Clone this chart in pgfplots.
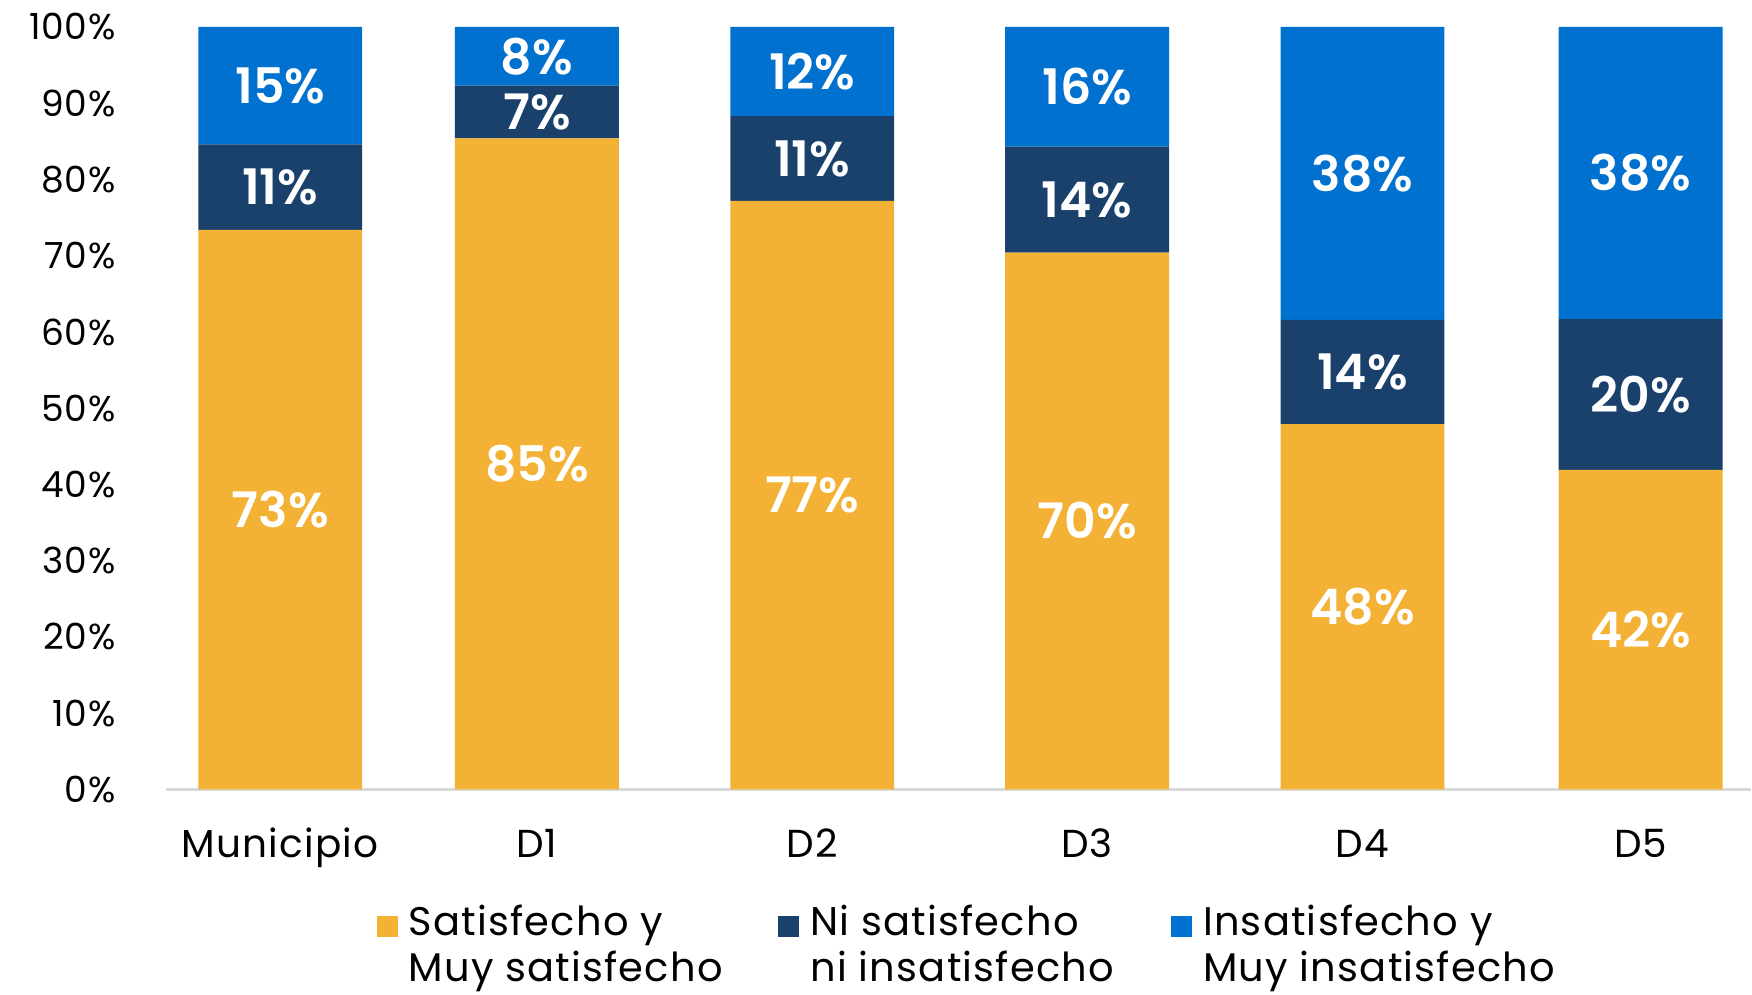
\documentclass[border=0pt]{standalone}
\usepackage{pgfplots}
\pgfplotsset{compat=1.18}
\usepackage{fontspec}
\setmainfont{Poppins}
\newfontfamily\lblfont{Poppins SemiBold}
\definecolor{cYel}{HTML}{F3B236}
\definecolor{cNavy}{HTML}{1A416C}
\definecolor{cBlue}{HTML}{0071CE}
\definecolor{cAxis}{HTML}{D9D9D9}
\begin{document}
\begin{tikzpicture}
\begin{axis}[
  at={(83pt,102.5pt)}, anchor=south west,
  width=793pt, height=381.5pt, scale only axis,
  ybar stacked, bar width=82pt,
  xmin=-0.416, xmax=5.351, ymin=0, ymax=100,
  axis x line*=bottom, axis y line*=left,
  x axis line style={draw=cAxis, line width=1.2pt, -},
  y axis line style={draw=none},
  xtick={0,0.934,1.936,2.936,3.938,4.950},
  xticklabels={Municipio,D1,D2,D3,D4,D5},
  ytick={0,10,20,30,40,50,60,70,80,90,100},
  yticklabels={0\%,10\%,20\%,30\%,40\%,50\%,60\%,70\%,80\%,90\%,100\%},
  major tick length=0pt,
  xticklabel style={font=\fontsize{19.5}{22}\selectfont\addfontfeature{LetterSpace=3}, anchor=base, inner sep=0pt, yshift=-34pt},
  yticklabel style={font=\fontsize{18}{21}\selectfont\addfontfeature{LetterSpace=2}, anchor=east, inner sep=0pt, xshift=-25pt},
  /pgf/number format/assume math mode=true,
  nodes near coords={\pgfmathprintnumber[fixed,precision=0]{\pgfplotspointmeta}\%},
  every node near coord/.append style={font=\lblfont\fontsize{24.5}{27}\selectfont, text=white, anchor=center},
  legend cell align=left,
  legend columns=3,
  legend image code/.code={\draw[#1,draw=none] (0pt,-8pt) rectangle (10.5pt,2.5pt);},
  legend style={at={(axis description cs:0,0)}, anchor=north west, xshift=105.5pt, yshift=-57pt,
    draw=none, fill=none, inner sep=0pt, outer sep=0pt,
    font=\fontsize{20}{23}\selectfont\addfontfeature{LetterSpace=3},
    nodes={inner sep=0pt},
    /tikz/every odd column/.append style={column sep=5.5pt},
    /tikz/every even column/.append style={column sep=0pt}},
]
\addplot[fill=cYel, draw=none] coordinates {(0,73.4) (0.934,85.4) (1.936,77.2) (2.936,70.4) (3.938,47.9) (4.950,41.9)};
\addlegendentry{\begin{tabular}[t]{@{}p{185pt}@{}}Satisfecho y\\Muy satisfecho\end{tabular}}
\addplot[fill=cNavy, draw=none] coordinates {(0,11.2) (0.934,6.9) (1.936,11.1) (2.936,13.9) (3.938,13.7) (4.950,19.8)};
\addlegendentry{\begin{tabular}[t]{@{}p{180.5pt}@{}}Ni satisfecho\\ni insatisfecho\end{tabular}}
\addplot[fill=cBlue, draw=none] coordinates {(0,15.4) (0.934,7.7) (1.936,11.7) (2.936,15.7) (3.938,38.4) (4.950,38.3)};
\addlegendentry{\begin{tabular}[t]{@{}l@{}}Insatisfecho y\\Muy insatisfecho\end{tabular}}
\end{axis}
\path[use as bounding box] (0,0) rectangle (876pt,497.5pt);
\end{tikzpicture}
\end{document}
